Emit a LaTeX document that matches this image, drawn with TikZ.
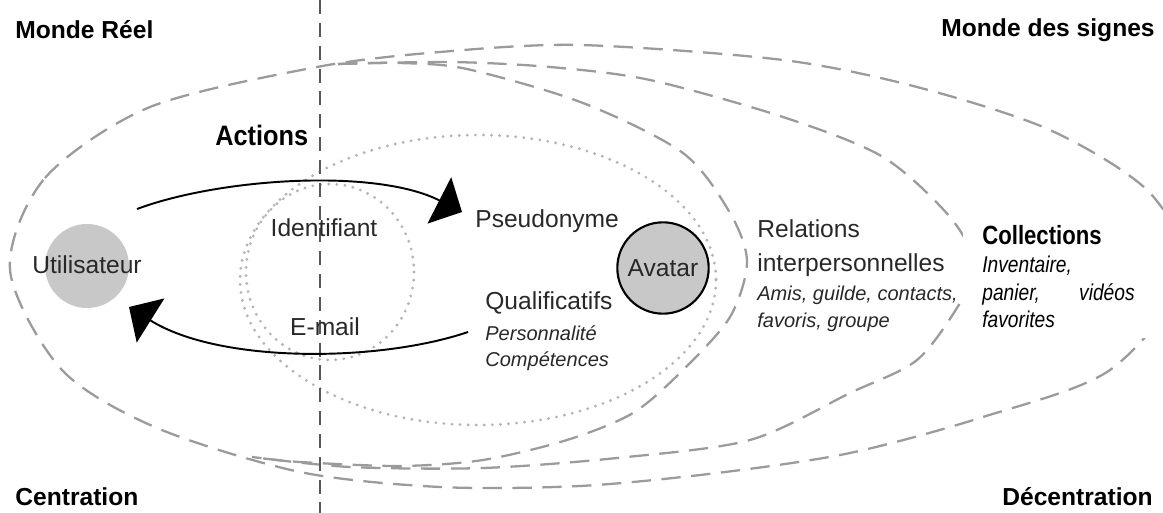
\documentclass[tikz,border=0pt]{standalone}
\usepackage{fontspec}
\setmainfont{Liberation Sans}
\newfontfamily\actfont[FakeStretch=0.9]{Liberation Sans}
\newfontfamily\colfont[FakeStretch=0.84]{Liberation Sans}
\usetikzlibrary{arrows.meta}
\definecolor{zonegray}{RGB}{155,155,155}
\definecolor{dotgray}{RGB}{180,180,180}
\definecolor{discgray}{RGB}{200,200,200}
\definecolor{textgray}{RGB}{40,40,40}

\begin{document}
\begin{tikzpicture}[x=0.02cm,y=-0.02cm,
	zone/.style={draw=zonegray,line width=1.3pt,dash pattern=on 11pt off 6pt},
	core/.style={draw=dotgray,line width=1.8pt,line cap=round,dash pattern=on 0pt off 4.6pt},
	divider/.style={draw=black!65,line width=0.8pt,dash pattern=on 8pt off 5pt},
	flow/.style={line width=1.1pt,-{Triangle[width=29.5pt,length=14.5pt]}},
	world/.style={inner sep=0pt,font=\fontsize{14}{16}\selectfont\bfseries},
	word/.style={inner sep=0pt,text=textgray,font=\fontsize{14}{16}\selectfont},
	detail/.style={inner sep=0pt,text=textgray,font=\fontsize{11.4}{13}\selectfont\itshape},
	coll/.style={inner sep=0pt,font=\fontsize{13}{15}\selectfont\colfont\itshape}]
	\useasboundingbox (0,0) rectangle (1163,513);
	\draw[zone] plot[smooth cycle] coordinates {(10,270) (45,178) (150,107) (317,67) (440,52) (580,45) (783,60) (917,87) (1050,130) (1150,193) (1185,275) (1110,370) (983,417) (850,453) (717,473) (580,486) (440,487) (300,472) (157,428) (62,370)};
	\draw[zone] plot[smooth] coordinates {(338,64) (450,62) (550,67) (650,80) (783,117) (883,157) (950,217) (975,265) (960,303) (917,360) (850,393) (750,440) (617,458) (483,468) (350,467) (252,457)};
	\draw[zone] plot[smooth] coordinates {(338,64) (400,63) (467,69) (583,103) (683,153) (730,213) (747,262) (730,317) (683,370) (633,413) (567,440) (483,460) (400,466) (300,462) (252,457)};
	\fill[white] (963,210) rectangle (1163,338);
	\draw[core] (330,272) ellipse (84 and 88);
	\draw[core] (478,280) ellipse (238 and 145);
	\coordinate (axtop) at (320,0);
	\coordinate (axbot) at (320,513);
	\draw[divider] (axtop) -- (axbot);
	\fill[discgray] (87,266) circle (42);
	\node[circle,draw,line width=1.2pt,fill=discgray,minimum size=52pt,inner sep=0pt,text=textgray,font=\fontsize{14}{16}\selectfont] (avatar) at (663,268) {Avatar};
	\coordinate (actout) at (137,209);
	\coordinate (actin) at (462,212);
	\coordinate (retout) at (468,332);
	\coordinate (retin) at (129,307);
	\draw[flow] (actout) .. controls (220,178) and (376,168) .. (actin);
	\draw[flow] (retout) .. controls (380,362) and (220,364) .. (retin);
	\node[world,anchor=base west] (reel) at (15,39) {Monde Réel};
	\node[world,anchor=base east] (signes) at (1155,37) {Monde des signes};
	\node[world,anchor=base west] (centr) at (15,505) {Centration};
	\node[world,anchor=base east] (decentr) at (1153,505) {Décentration};
	\node[inner sep=0pt,anchor=base west,font=\fontsize{16}{18}\selectfont\actfont\bfseries] (actions) at (215,146) {Actions};
	\node[word,anchor=base] (user) at (87,274) {Utilisateur};
	\node[word,anchor=base] (ident) at (324,236) {Identifiant};
	\node[word,anchor=base] (email) at (325,336) {E-mail};
	\node[word,anchor=base west] (pseudo) at (475,228) {Pseudonyme};
	\node[word,anchor=base west] (qualif) at (485,310) {Qualificatifs};
	\node[detail,anchor=base west] (perso) at (485,340) {Personnalité};
	\node[detail,anchor=base west] (compet) at (485,366) {Compétences};
	\node[word,anchor=base west] (rel) at (757,237) {Relations};
	\node[word,anchor=base west] (interp) at (757,272) {interpersonnelles};
	\node[detail,anchor=base west] (amis) at (757,300) {Amis, guilde, contacts,};
	\node[detail,anchor=base west] (favoris) at (757,327) {favoris, groupe};
	\node[inner sep=0pt,anchor=base west,font=\fontsize{15}{17}\selectfont\colfont\bfseries] (collect) at (982,245) {Collections};
	\node[coll,anchor=base west] (invent) at (982,273) {Inventaire,};
	\node[coll,anchor=base west] (panier) at (982,300) {\makebox[86.7pt][s]{panier, vidéos}};
	\node[coll,anchor=base west] (favor) at (982,327) {favorites};
\end{tikzpicture}
\end{document}
